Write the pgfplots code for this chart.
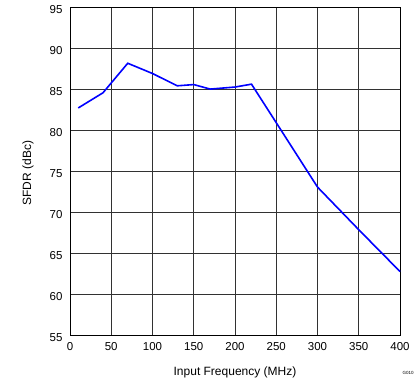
\documentclass[border=0pt]{standalone}
\usepackage{pgfplots}
\pgfplotsset{compat=1.18}
\usepackage{fontspec}
\setmainfont{Liberation Sans}
\definecolor{gridc}{RGB}{50,50,50}
\begin{document}
\begin{tikzpicture}
\useasboundingbox (0pt,0pt) rectangle (419pt,382pt);
\begin{axis}[
  at={(70pt,46.5pt)}, anchor=south west,
  scale only axis, width=330pt, height=328pt,
  xmin=0, xmax=400, ymin=55, ymax=95,
  xtick={0,50,...,400}, ytick={55,60,...,95},
  grid=major,
  major grid style={gridc, line width=0.8pt},
  axis line style={black, line width=0.9pt},
  tick style={draw=none},
  font=\fontsize{12}{14}\selectfont,
  ticklabel style={font=\fontsize{11.5}{13}\selectfont},
  xticklabel style={yshift=-3pt},
  yticklabel style={xshift=-4pt, yshift=-2pt},
  /pgf/number format/assume math mode=true,
  xlabel={Input Frequency (MHz)},
  ylabel={SFDR (dBc)},
  xlabel style={at={(axis description cs:0.5,-0.114)}, anchor=center},
  ylabel style={at={(axis description cs:-0.127,0.495)}, anchor=center},
  clip=false,
]
\addplot[color={rgb,255:red,0;green,0;blue,255}, line width=1.6pt] coordinates {
 (10,82.75) (40,84.6) (70,88.2) (100,86.95) (130,85.45) (150,85.6)
 (170,85.05) (200,85.3) (220,85.65) (250,80.95) (300,73.1) (350,67.9) (400,62.8)
};
\end{axis}
\node[font=\fontsize{4.5}{5}\selectfont, anchor=center] at (408pt,9pt) {G010};
\end{tikzpicture}
\end{document}
